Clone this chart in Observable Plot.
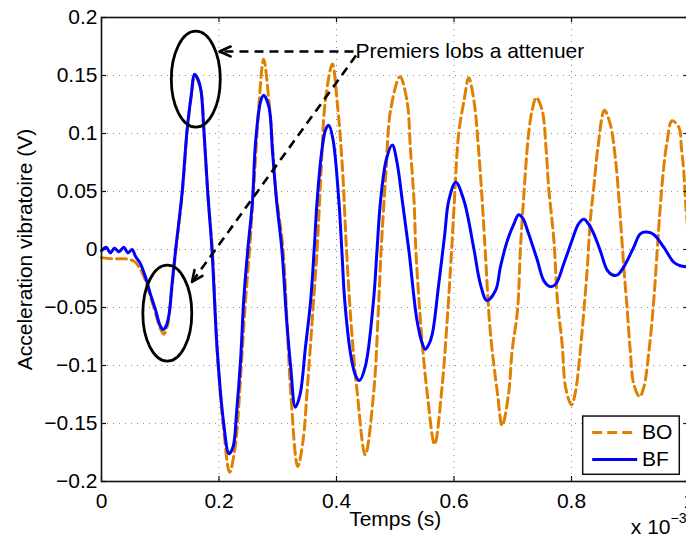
<!DOCTYPE html>
<html>
<head>
<meta charset="utf-8">
<script src="https://cdn.jsdelivr.net/npm/d3@7"></script>
<script src="https://cdn.jsdelivr.net/npm/@observablehq/plot@0.6"></script>
<style>
html, body { margin: 0; padding: 0; background: #fff; overflow: hidden; width: 686px; height: 542px; }
#chart svg { max-width: none !important; display: block; }
</style>
</head>
<body>
<div id="chart"></div>
<script>
// ---------- data (time in ms-units: axis shows x 10^-3 s) ----------
const xTicks = [0, 0.2, 0.4, 0.6, 0.8, 1];
const xTickLabels = ["0", "0.2", "0.4", "0.6", "0.8", "1"];
const yTicks = [-0.2, -0.15, -0.1, -0.05, 0, 0.05, 0.1, 0.15, 0.2];
const yTickLabels = ["\u22120.2", "\u22120.15", "\u22120.1", "\u22120.05", "0", "0.05", "0.1", "0.15", "0.2"];
const seriesNames = ["BO", "BF"];

const timeBO = [0, 0.02, 0.04, 0.055, 0.065, 0.075, 0.083, 0.092, 0.100, 0.106, 0.112, 0.118, 0.126, 0.137, 0.146, 0.153, 0.159, 0.169, 0.174, 0.181, 0.189, 0.197, 0.208, 0.218, 0.227, 0.238, 0.245, 0.252, 0.260, 0.268, 0.276, 0.285, 0.2905, 0.296, 0.309, 0.316, 0.322, 0.334, 0.343, 0.350, 0.361, 0.367, 0.374, 0.381, 0.393, 0.401, 0.410, 0.417, 0.425, 0.435, 0.449, 0.4635, 0.472, 0.476, 0.484, 0.492, 0.508, 0.520, 0.526, 0.532, 0.535, 0.545, 0.554, 0.567, 0.579, 0.588, 0.596, 0.600, 0.608, 0.617, 0.625, 0.634, 0.642, 0.648, 0.653, 0.662, 0.674, 0.682, 0.693, 0.699, 0.708, 0.713, 0.716, 0.727, 0.733, 0.740, 0.750, 0.757, 0.761, 0.770, 0.776, 0.784, 0.790, 0.800, 0.807, 0.815, 0.821, 0.827, 0.832, 0.838, 0.845, 0.856, 0.866, 0.875, 0.881, 0.889, 0.895, 0.900, 0.906, 0.916, 0.923, 0.932, 0.940, 0.946, 0.951, 0.957, 0.963, 0.971, 0.983, 0.987, 0.991, 0.994, 1.000];
const accelBO = [-0.007, -0.008, -0.008, -0.010, -0.016, -0.027, -0.040, -0.055, -0.068, -0.073, -0.066, -0.042, -0.003, 0.046, 0.103, 0.133, 0.150, 0.138, 0.105, 0.048, -0.003, -0.088, -0.155, -0.192, -0.172, -0.100, -0.045, 0.000, 0.060, 0.125, 0.164, 0.128, 0.094, 0.054, 0.000, -0.065, -0.122, -0.187, -0.165, -0.122, -0.044, 0.000, 0.070, 0.128, 0.160, 0.128, 0.071, 0.000, -0.065, -0.122, -0.177, -0.122, -0.044, 0.000, 0.065, 0.120, 0.149, 0.128, 0.085, 0.042, 0.000, -0.075, -0.122, -0.168, -0.122, -0.064, 0.000, 0.036, 0.100, 0.128, 0.148, 0.128, 0.085, 0.042, 0.000, -0.072, -0.124, -0.152, -0.124, -0.087, -0.053, 0.000, 0.025, 0.100, 0.120, 0.131, 0.120, 0.085, 0.054, 0.008, -0.044, -0.081, -0.119, -0.134, -0.122, -0.087, -0.053, -0.015, 0.025, 0.054, 0.088, 0.120, 0.108, 0.077, 0.042, -0.015, -0.053, -0.087, -0.116, -0.127, -0.119, -0.087, -0.044, 0.000, 0.036, 0.071, 0.094, 0.111, 0.105, 0.088, 0.068, 0.042, 0.005];

const timeBF = [0, 0.008, 0.015, 0.022, 0.030, 0.038, 0.045, 0.052, 0.058, 0.066, 0.075, 0.083, 0.092, 0.100, 0.105, 0.110, 0.115, 0.120, 0.126, 0.137, 0.146, 0.153, 0.158, 0.163, 0.169, 0.174, 0.181, 0.188, 0.197, 0.208, 0.217, 0.224, 0.230, 0.237, 0.242, 0.249, 0.257, 0.262, 0.271, 0.276, 0.285, 0.291, 0.298, 0.307, 0.315, 0.322, 0.330, 0.338, 0.347, 0.356, 0.362, 0.367, 0.375, 0.382, 0.387, 0.394, 0.404, 0.409, 0.414, 0.424, 0.432, 0.439, 0.449, 0.463, 0.469, 0.475, 0.485, 0.495, 0.503, 0.512, 0.523, 0.537, 0.546, 0.551, 0.557, 0.563, 0.574, 0.584, 0.591, 0.603, 0.617, 0.634, 0.645, 0.656, 0.671, 0.679, 0.691, 0.702, 0.710, 0.717, 0.727, 0.742, 0.753, 0.764, 0.773, 0.787, 0.801, 0.812, 0.821, 0.829, 0.838, 0.849, 0.861, 0.870, 0.878, 0.889, 0.906, 0.917, 0.928, 0.940, 0.957, 0.974, 0.985, 1.000];
const accelBF = [-0.001, 0.002, -0.003, 0.001, -0.002, 0.002, -0.003, 0.000, -0.006, -0.012, -0.024, -0.038, -0.052, -0.066, -0.069, -0.066, -0.056, -0.030, -0.001, 0.048, 0.105, 0.134, 0.151, 0.148, 0.138, 0.105, 0.048, 0.000, -0.087, -0.150, -0.176, -0.170, -0.140, -0.093, -0.044, 0.000, 0.042, 0.091, 0.128, 0.133, 0.123, 0.085, 0.042, 0.000, -0.060, -0.101, -0.136, -0.125, -0.085, -0.044, 0.000, 0.042, 0.085, 0.104, 0.107, 0.095, 0.042, 0.000, -0.044, -0.090, -0.108, -0.113, -0.101, -0.044, 0.000, 0.042, 0.078, 0.090, 0.075, 0.042, 0.000, -0.061, -0.081, -0.086, -0.082, -0.073, -0.030, 0.012, 0.042, 0.058, 0.042, 0.000, -0.030, -0.044, -0.035, -0.015, 0.008, 0.022, 0.030, 0.027, 0.0135, -0.0095, -0.027, -0.032, -0.030, -0.012, 0.008, 0.022, 0.026, 0.022, 0.0135, -0.001, -0.018, -0.022, -0.022, -0.015, 0.002, 0.0135, 0.015, 0.013, 0.002, -0.011, -0.014, -0.015];

const xLabel = "Temps (s)";
const yLabel = "Acceleration vibratoire (V)";
const xExponentBase = "x 10";
const xExponent = "\u22123";
const annotationText = "Premiers lobs a attenuer";
// annotation anchors, in data units
const ellipseCenters = [{x: 0.1605, y: 0.1468}, {x: 0.1120, y: -0.0549}];
const arrowSegments = [
  {x1: 0.4289, y1: 0.1707, x2: 0.2009, y2: 0.1707},
  {x1: 0.4332, y1: 0.1672, x2: 0.1540, y2: -0.0280}
];
const annotationAnchor = [{x: 0.4323, y: 0.1707, label: annotationText}];
// legend, in data units
const legendBox = [{x1: 0.8199, x2: 0.9843, y1: -0.1942, y2: -0.1440}];
const legendItems = [
  {name: "BO", y: -0.1578, x1: 0.8352, x2: 0.9118, xt: 0.9199},
  {name: "BF", y: -0.1810, x1: 0.8352, x2: 0.9118, xt: 0.9199}
];

// ---------- styling ----------
const FONT = "'Liberation Sans', Arial, Helvetica, sans-serif";
const FS = 21;
const ORANGE = "#e08000";
const BLUE = "#0000ff";
const colors = {BO: ORANGE, BF: BLUE};
const dashes = {BO: "10,5", BF: null};

const boData = timeBO.map((t, i) => ({t, a: accelBO[i], s: seriesNames[0]}));
const bfData = timeBF.map((t, i) => ({t, a: accelBF[i], s: seriesNames[1]}));

const base = {
  width: 700, height: 542,
  marginLeft: 101, marginRight: 11.5, marginTop: 17, marginBottom: 61,
  x: {domain: [0, 1]},
  y: {domain: [-0.2, 0.2]}
};

// probe scales to size the arrowheads in pixels
const probe = Plot.plot({...base, marks: [Plot.frame()]});
const sx = probe.scale("x"), sy = probe.scale("y");
const arrowPx = arrowSegments.map(d => Math.hypot(sx.apply(d.x2) - sx.apply(d.x1), sy.apply(d.y2) - sy.apply(d.y1)));

const ellipseSymbol = {
  draw(context, size) {
    const ry = Math.sqrt(size / Math.PI), rx = ry * 0.51, k = 0.5523;
    context.moveTo(rx, 0);
    context.bezierCurveTo(rx, ry * k, rx * k, ry, 0, ry);
    context.bezierCurveTo(-rx * k, ry, -rx, ry * k, -rx, 0);
    context.bezierCurveTo(-rx, -ry * k, -rx * k, -ry, 0, -ry);
    context.bezierCurveTo(rx * k, -ry, rx, -ry * k, rx, 0);
    context.closePath();
  }
};

const gridStyle = {stroke: "#8a8a8a", strokeOpacity: 1, strokeWidth: 1, strokeDasharray: "1,5"};
const innerX = xTicks.filter(d => d > 0 && d < 1);
const innerY = yTicks.filter(d => d > -0.2 && d < 0.2);
const frameH = 542 - 17 - 61, frameW = 700 - 101 - 11.5, TL = 5;

const marks = [
  Plot.gridX(innerX, {x: d => d, ...gridStyle}),
  Plot.gridY(innerY, {y: d => d, ...gridStyle}),
  Plot.line(boData, {x: "t", y: "a", stroke: colors.BO, strokeWidth: 3, strokeDasharray: dashes.BO, curve: "catmull-rom"}),
  Plot.line(bfData, {x: "t", y: "a", stroke: colors.BF, strokeWidth: 3, curve: "catmull-rom"}),
  Plot.dot(ellipseCenters, {x: "x", y: "y", r: 48, symbol: ellipseSymbol, stroke: "black", strokeWidth: 2.8, fill: "none"}),
  Plot.link(arrowSegments, {x1: "x1", y1: "y1", x2: "x2", y2: "y2", stroke: "black", strokeWidth: 2.6, strokeDasharray: "9,6"}),
  ...arrowSegments.map((d, i) => Plot.arrow([d], {x1: "x1", y1: "y1", x2: "x2", y2: "y2", stroke: "black", strokeWidth: 2.6,
    headLength: 7, headAngle: 48, insetStart: arrowPx[i] - 2})),
  Plot.text(annotationAnchor, {x: "x", y: "y", text: "label", textAnchor: "start", fontSize: FS, fill: "black"}),
  Plot.frame({stroke: "#111", strokeWidth: 1.6}),
  Plot.tickX(xTicks, {x: d => d, insetTop: frameH - TL, stroke: "#111", strokeWidth: 1.2}),
  Plot.tickX(xTicks, {x: d => d, insetBottom: frameH - TL, stroke: "#111", strokeWidth: 1.2}),
  Plot.tickY(yTicks, {y: d => d, insetRight: frameW - TL, stroke: "#111", strokeWidth: 1.2}),
  Plot.tickY(yTicks, {y: d => d, insetLeft: frameW - TL, stroke: "#111", strokeWidth: 1.2}),
  Plot.axisX(xTicks, {tickSize: 0, tickPadding: 12, fontSize: FS, label: null,
    tickFormat: d => xTickLabels[xTicks.indexOf(d)]}),
  Plot.axisY(yTicks, {tickSize: 0, tickPadding: 4, fontSize: FS, label: null,
    tickFormat: d => yTickLabels[yTicks.indexOf(d)]}),
  Plot.text([xLabel], {text: d => d, frameAnchor: "bottom", textAnchor: "middle", dy: 44, fontSize: FS, fill: "black"}),
  Plot.text([yLabel], {text: d => d, frameAnchor: "left", textAnchor: "middle", rotate: -90, dx: -76, fontSize: FS, fill: "black"}),
  Plot.text([xExponentBase], {text: d => d, frameAnchor: "bottom-right", textAnchor: "end", dx: -18.5, dy: 52.3, fontSize: FS, fill: "black"}),
  Plot.text([xExponent], {text: d => d, frameAnchor: "bottom-right", textAnchor: "start", dx: -18.5, dy: 41.5, fontSize: 14, fill: "black"}),
  // legend
  Plot.rect(legendBox, {x1: "x1", x2: "x2", y1: "y1", y2: "y2", fill: "white", stroke: "#111", strokeWidth: 1.5}),
  Plot.link(legendItems.filter(d => d.name === "BO"), {x1: "x1", x2: "x2", y1: "y", y2: "y", stroke: colors.BO, strokeWidth: 3, strokeDasharray: dashes.BO}),
  Plot.link(legendItems.filter(d => d.name === "BF"), {x1: "x1", x2: "x2", y1: "y", y2: "y", stroke: colors.BF, strokeWidth: 3}),
  Plot.text(legendItems, {x: "xt", y: "y", text: "name", textAnchor: "start", fontSize: FS, fill: "black"})
];

const chart = Plot.plot({
  ...base,
  style: {fontFamily: FONT, fontSize: FS + "px", background: "white", maxWidth: "none", color: "black"},
  marks
});
document.getElementById("chart").appendChild(chart);
</script>
</body>
</html>
